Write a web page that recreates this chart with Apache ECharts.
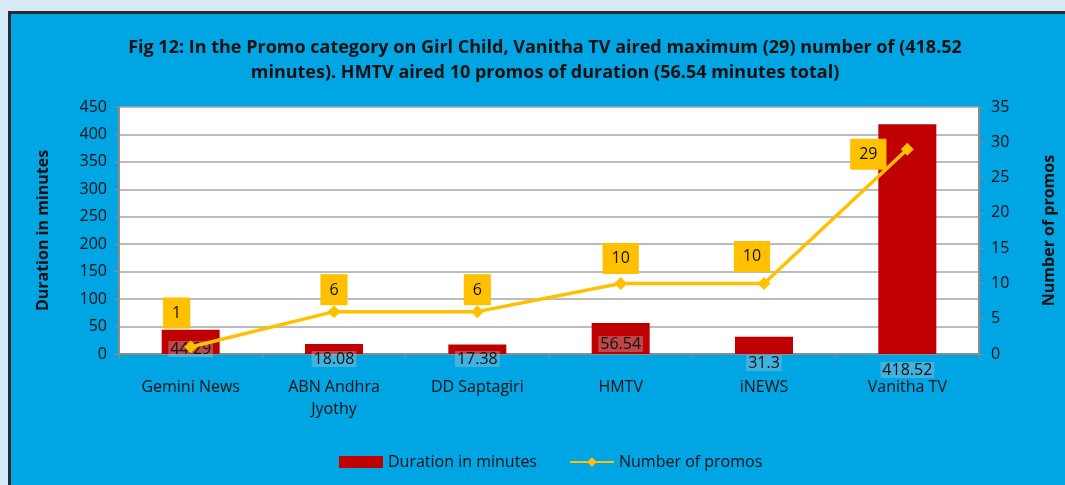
<!DOCTYPE html>
<html>
<head>
<meta charset="utf-8">
<script src="https://cdn.jsdelivr.net/npm/echarts@6/dist/echarts.min.js"></script>
<style>
html, body { margin: 0; padding: 0; background: #d6eaf8; }
#frame { position: absolute; left: 8px; top: 11px; width: 1057px; height: 474px;
  border-left: 3px solid #2b2b2b; border-top: 3px solid #2b2b2b; background: #00a5e3; box-sizing: border-box; }
#main { position: absolute; left: 0; top: 0; width: 1065px; height: 485px; }
</style>
</head>
<body>
<div id="frame"></div>
<div id="main"></div>
<script>
// chart data
var channels = ['Gemini News', 'ABN Andhra\nJyothy', 'DD Saptagiri', 'HMTV', 'iNEWS', 'Vanitha TV'];
var durations = [44.29, 18.08, 17.38, 56.54, 31.3, 418.52];
var promos = [1, 6, 6, 10, 10, 29];

// label placement tweaks (pixels)
var barLabelShift = [-6, 4, 4, -11, 8, 15];
var lineLabelShift = [[-14, -12], [0, 0], [0, 0], [0, -3], [-12, -5], [-39, 27]];

var FONT = 'Open Sans';
var myChart = echarts.init(document.getElementById('main'));

var barData = durations.map(function (v, i) {
	return { value: v, label: { offset: [0, barLabelShift[i]] } };
});
var lineData = promos.map(function (v, i) {
	return { value: v, label: { offset: lineLabelShift[i] } };
});

var option = {
	backgroundColor: 'transparent',
	textStyle: { fontFamily: FONT },
	title: {
		text: 'Fig 12: In the Promo category on Girl Child, Vanitha TV aired maximum (29) number of (418.52\nminutes). HMTV aired 10 promos of duration (56.54 minutes total)',
		left: 540, top: 30, textAlign: 'center',
		textStyle: { fontFamily: FONT, fontSize: 18, fontWeight: 'bold', color: '#111', lineHeight: 25 }
	},
	grid: { left: 119, right: 86, top: 107, bottom: 131, show: true, backgroundColor: '#fff', borderWidth: 0 },
	legend: {
		bottom: 10, left: 334, itemGap: 32,
		textStyle: { fontFamily: FONT, fontSize: 16, color: '#111' },
		data: [
			{ name: 'Duration in minutes', icon: 'rect', itemWidth: 42, itemHeight: 12 },
			{ name: 'Number of promos' }
		],
		itemWidth: 44, itemHeight: 12
	},
	xAxis: {
		type: 'category', data: channels,
		axisLine: { lineStyle: { color: '#8c8c8c', width: 2 } },
		axisTick: { show: true, length: 5, lineStyle: { color: '#8c8c8c' } },
		axisLabel: { color: '#111', fontSize: 16, margin: 22, lineHeight: 22 }
	},
	yAxis: [{
		type: 'value', min: 0, max: 450, interval: 50,
		name: 'Duration in minutes', nameLocation: 'middle', nameGap: 68,
		nameTextStyle: { fontFamily: FONT, fontSize: 16, fontWeight: 'bold', color: '#111' },
		axisLine: { show: true, lineStyle: { color: '#8c8c8c', width: 2 } },
		axisTick: { show: true, length: 5, lineStyle: { color: '#8c8c8c' } },
		axisLabel: { color: '#111', fontSize: 16, margin: 12 },
		splitLine: { lineStyle: { color: '#a6a6a6', width: 1.5 } }
	}, {
		type: 'value', min: 0, max: 35, interval: 5,
		name: 'Number of promos', nameLocation: 'middle', nameGap: 62, nameRotate: 90,
		nameTextStyle: { fontFamily: FONT, fontSize: 16, fontWeight: 'bold', color: '#111' },
		axisLine: { show: true, lineStyle: { color: '#8c8c8c', width: 2 } },
		axisTick: { show: true, length: 5, lineStyle: { color: '#8c8c8c' } },
		axisLabel: { color: '#111', fontSize: 16, margin: 12 },
		splitLine: { show: false }
	}],
	series: [{
		name: 'Duration in minutes', type: 'bar', yAxisIndex: 0,
		data: barData, barWidth: 58,
		itemStyle: { color: '#c00000' },
		label: {
			show: true, position: 'insideBottom', distance: -9,
			color: '#111', fontSize: 16, fontFamily: FONT,
			backgroundColor: 'rgba(190,200,210,0.35)', padding: [0, 2]
		}
	}, {
		name: 'Number of promos', type: 'line', yAxisIndex: 1,
		data: lineData,
		symbol: 'diamond', symbolSize: 13,
		lineStyle: { color: '#ffc000', width: 3.5 },
		itemStyle: { color: '#ffc000' },
		label: {
			show: true, position: 'top', distance: 0,
			color: '#111', fontSize: 16, fontFamily: FONT,
			backgroundColor: '#ffc000', padding: [8, 9, 7, 9]
		}
	}]
};

myChart.setOption(option);
</script>
</body>
</html>
